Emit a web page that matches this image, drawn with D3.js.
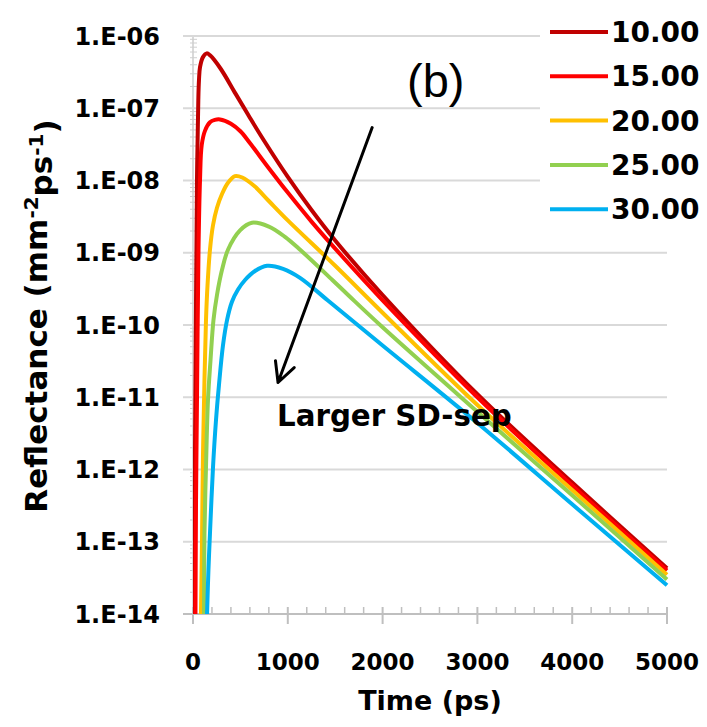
<!DOCTYPE html>
<meta charset="utf-8">
<style>
body { margin: 0; background: #fff; }
text { font-family: "DejaVu Sans", sans-serif; fill: #000; }
.bold { font-weight: bold; }
.grid line { stroke: #d9d9d9; stroke-width: 2px; }
.series { fill: none; stroke-width: 4px; stroke-linejoin: round; }
</style>
<svg width="707" height="727"></svg>
<script src="https://cdn.jsdelivr.net/npm/d3@7"></script>
<script>

// legend names and colours (source-detector separation)
var seriesNames = ["10.00", "15.00", "20.00", "25.00", "30.00"],
    seriesColors = ["#c00000", "#ff0000", "#ffc000", "#92d050", "#00b0f0"];

// [time (ps), reflectance]
var sd10 = [[11,1.0e-14],[21,1.86e-12],[32,2.2e-10],[42,1.02e-8],[56,1.29e-7],[63,2.45e-7],[74,3.7e-7],
  [105,5.1e-7],[145,5.75e-7],[180,5.4e-7],[290,3.55e-7],[450,1.58e-7],[600,7.4e-8],[750,3.55e-8],
  [1000,1.12e-8],[1250,3.9e-9],[1500,1.48e-9],[2000,2.6e-10],[3000,1.1e-11],[4000,6.6e-13],[5000,4.3e-14]];
var sd15 = [[26,1.0e-14],[32,3.8e-13],[42,9.1e-12],[58,1.1e-9],[74,1.02e-8],[92,3.1e-8],[127,4.9e-8],
  [179,6.4e-8],[230,6.9e-8],[285,7.0e-8],[400,6.1e-8],[500,4.8e-8],[600,3.3e-8],[800,1.48e-8],
  [1000,6.8e-9],[1250,2.7e-9],[1500,1.14e-9],[2000,2.2e-10],[3000,1.0e-11],[4000,6.0e-13],[5000,4.0e-14]];
var sd20 = [[84,1.0e-14],[95,1.05e-13],[105,1.48e-12],[121,1.74e-11],[137,1.17e-10],[153,3.5e-10],
  [179,1.1e-9],[211,2.4e-9],[253,4.2e-9],[306,6.5e-9],[369,9.3e-9],[443,1.15e-8],[520,1.1e-8],
  [650,8.3e-9],[800,5.2e-9],[1000,2.8e-9],[1500,6.6e-10],[2000,1.48e-10],[3000,7.8e-12],
  [4000,5.2e-13],[5000,3.5e-14]];
var sd25 = [[116,1.0e-14],[121,1.3e-13],[137,1.07e-12],[158,9.1e-12],[185,3.3e-11],[216,1.17e-10],
  [253,2.6e-10],[306,5.8e-10],[369,1.1e-9],[496,2.04e-9],[622,2.6e-9],[800,2.3e-9],[970,1.66e-9],
  [1130,1.1e-9],[1470,4.2e-10],[1650,2.5e-10],[2000,9.3e-11],[3000,6.3e-12],[4000,4.4e-13],[5000,3.0e-14]];
var sd30 = [[148,1.0e-14],[163,4.1e-14],[179,1.3e-13],[211,1.07e-12],[243,4.9e-12],[274,1.48e-11],
  [316,5.2e-11],[359,1.17e-10],[411,2.1e-10],[475,3.1e-10],[549,4.2e-10],[654,5.6e-10],[781,6.6e-10],
  [950,6.0e-10],[1129,4.5e-10],[1420,2.2e-10],[2000,5.2e-11],[3000,4.4e-12],[4000,3.3e-13],[5000,2.5e-14]];

var xTicks = [0, 1000, 2000, 3000, 4000, 5000],
    yTicks = [1e-6, 1e-7, 1e-8, 1e-9, 1e-10, 1e-11, 1e-12, 1e-13, 1e-14],
    yTickLabels = ["1.E-06", "1.E-07", "1.E-08", "1.E-09", "1.E-10", "1.E-11", "1.E-12", "1.E-13", "1.E-14"];

var svg = d3.select("svg");

var x = d3.scaleLinear().domain([0, 5000]).range([193, 667]),
    y = d3.scaleLog().domain([1e-14, 1e-6]).range([614, 36]);

// horizontal gridlines (they run out left as the major y ticks)
svg.append("g").attr("class", "grid")
  .selectAll("line").data(yTicks).enter().append("line")
    .attr("x1", 183).attr("x2", x(5000))
    .attr("y1", function(d) { return y(d); })
    .attr("y2", function(d) { return y(d); });

// y axis line and log minor ticks
svg.append("line")
    .attr("x1", x(0)).attr("x2", x(0)).attr("y1", y(1e-6)).attr("y2", y(1e-14))
    .attr("stroke", "#d9d9d9").attr("stroke-width", 2);
var minor = [];
yTicks.slice(1).forEach(function(p) {
  for (var k = 2; k < 10; k++) minor.push(p * k);
});
svg.append("g").selectAll("line").data(minor).enter().append("line")
    .attr("x1", x(0) - 3).attr("x2", x(0) + 4)
    .attr("y1", function(d) { return y(d); }).attr("y2", function(d) { return y(d); })
    .attr("stroke", "#cfcfcf").attr("stroke-width", 1);

// x axis
var xAxis = svg.append("g").attr("transform", "translate(0," + y(1e-14) + ")");
xAxis.append("line").attr("x1", 183).attr("x2", x(5000))
    .attr("stroke", "#bfbfbf").attr("stroke-width", 2);
xAxis.selectAll(".minor").data(d3.range(200, 5001, 200).filter(function(d) { return d % 1000; }))
  .enter().append("line")
    .attr("x1", function(d) { return x(d); }).attr("x2", function(d) { return x(d); })
    .attr("y1", -7).attr("y2", 0)
    .attr("stroke", "#bfbfbf").attr("stroke-width", 1.5);
xAxis.selectAll(".major").data(xTicks).enter().append("line")
    .attr("x1", function(d) { return x(d); }).attr("x2", function(d) { return x(d); })
    .attr("y1", -7).attr("y2", 10)
    .attr("stroke", "#bfbfbf").attr("stroke-width", 2);

svg.append("g").selectAll("text").data(xTicks).enter().append("text")
    .attr("class", "bold")
    .attr("x", function(d) { return x(d); })
    .attr("y", 670)
    .attr("text-anchor", "middle")
    .style("font-size", "23px")
    .text(function(d) { return d; });

svg.append("g").selectAll("text").data(yTicks).enter().append("text")
    .attr("class", "bold")
    .attr("x", 160)
    .attr("y", function(d) { return y(d); })
    .attr("dy", "0.36em")
    .attr("text-anchor", "end")
    .style("font-size", "24px")
    .text(function(d, i) { return yTickLabels[i]; });

// curves
svg.append("clipPath").attr("id", "plot")
  .append("rect").attr("x", x(0)).attr("y", 20).attr("width", x(5000) - x(0) + 4).attr("height", y(1e-14) - 20);

var line = d3.line()
    .x(function(d) { return x(d[0]); })
    .y(function(d) { return y(d[1]); })
    .curve(d3.curveCatmullRom.alpha(0.5));

var allSeries = [sd10, sd15, sd20, sd25, sd30];
svg.append("g").attr("clip-path", "url(#plot)")
  .selectAll("path").data(allSeries).enter().append("path")
    .attr("class", "series")
    .attr("stroke", function(d, i) { return seriesColors[i]; })
    .attr("d", line);

// legend
var legend = svg.append("g");
legend.append("rect").attr("x", 540).attr("y", 8).attr("width", 167).attr("height", 228).attr("fill", "#fff");
var item = legend.selectAll(".item").data(seriesNames).enter().append("g")
    .attr("transform", function(d, i) { return "translate(0," + (32 + i * 44.3) + ")"; });
item.append("line").attr("x1", 550).attr("x2", 608)
    .attr("stroke", function(d, i) { return seriesColors[i]; })
    .attr("stroke-width", 4);
item.append("text").attr("class", "bold")
    .attr("x", 611).attr("dy", "0.36em")
    .style("font-size", "28px")
    .text(function(d) { return d; });

// axis titles
svg.append("text").attr("class", "bold")
    .attr("x", 430).attr("y", 710)
    .attr("text-anchor", "middle")
    .style("font-size", "27px")
    .text("Time (ps)");

var yl = svg.append("text").attr("class", "bold")
    .attr("transform", "translate(47,316) rotate(-90)")
    .attr("text-anchor", "middle")
    .style("font-size", "31px");
yl.append("tspan").text("Reflectance (mm");
yl.append("tspan").attr("dy", "-0.45em").style("font-size", "20px").text("-2");
yl.append("tspan").attr("dy", "0.45em").text("ps");
yl.append("tspan").attr("dy", "-0.45em").style("font-size", "20px").text("-1");
yl.append("tspan").attr("dy", "0.45em").text(")");

// annotations
svg.append("text").attr("x", 407).attr("y", 97)
    .style("font-family", "'Liberation Sans', sans-serif")
    .style("font-size", "47px")
    .text("(b)");

svg.append("text").attr("class", "bold")
    .attr("x", 277).attr("y", 426)
    .style("font-size", "29.3px")
    .text("Larger SD-sep");

var a0 = [x(1890), y(5.4e-8)], a1 = [x(897), y(1.6e-11)];
var ang = Math.atan2(a0[1] - a1[1], a0[0] - a1[0]), th = 27 * Math.PI / 180, L = 22;
svg.append("path")
    .attr("d", "M" + a0 + "L" + a1 +
      "M" + [a1[0] + L * Math.cos(ang - th), a1[1] + L * Math.sin(ang - th)] + "L" + a1 +
      "L" + [a1[0] + L * Math.cos(ang + th), a1[1] + L * Math.sin(ang + th)])
    .attr("fill", "none").attr("stroke", "#000").attr("stroke-width", 3)
    .attr("stroke-linecap", "round").attr("stroke-linejoin", "round");

</script>
